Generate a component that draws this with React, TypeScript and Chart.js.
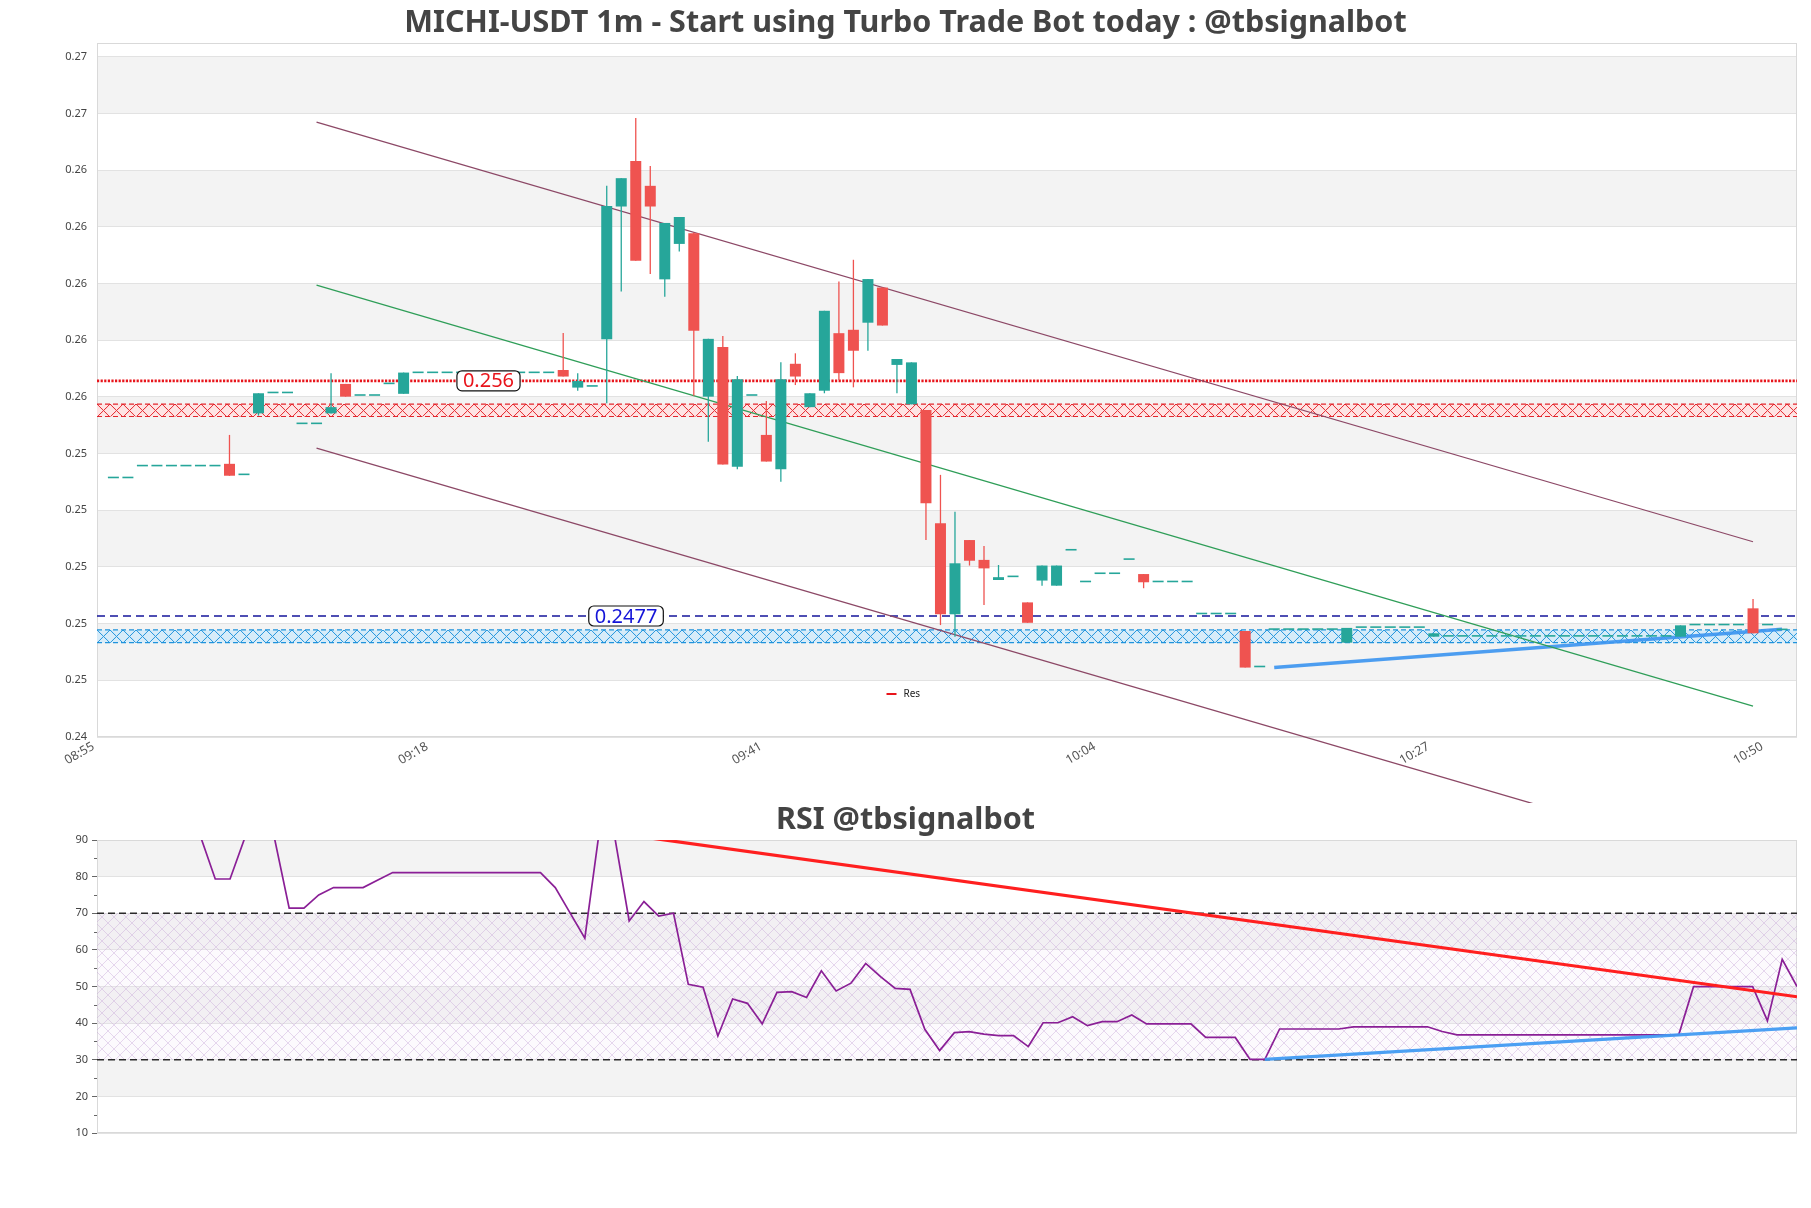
import React, { useEffect, useRef } from 'react';
import { Chart, registerables } from 'chart.js';

Chart.register(...registerables);

// ---------------- DATA ----------------
// candle index = minutes after 08:55
const candleMinutes = [
  1, 2, 3, 4, 5, 6, 7, 8, 9, 10,
  11, 12, 13, 14, 15, 16, 17, 18, 19, 20,
  21, 22, 23, 24, 25, 26, 27, 28, 29, 30,
  31, 32, 33, 34, 35, 36, 37, 38, 39, 40,
  41, 42, 43, 44, 45, 46, 47, 48, 49, 50,
  51, 52, 53, 54, 55, 56, 57, 58, 59, 60,
  61, 62, 63, 64, 65, 66, 67, 68, 69, 70,
  71, 72, 73, 74, 75, 76, 77, 78, 79, 80,
  81, 82, 83, 84, 85, 86, 87, 88, 89, 90,
  91, 92, 93, 94, 95, 96, 97, 98, 99, 100,
  101, 102, 103, 104, 105, 106, 107, 108, 109, 110,
  111, 112, 113, 114, 115, 116,
];

const opens = [
  0.25256, 0.25256, 0.25298, 0.25298, 0.25298, 0.25298, 0.25298, 0.25298, 0.25307, 0.25267,
  0.25485, 0.25556, 0.25556, 0.25447, 0.25447, 0.25485, 0.25589, 0.25547, 0.25547, 0.25588,
  0.25554, 0.25627, 0.25627, 0.25627, 0.25627, 0.25627, 0.25627, 0.25627, 0.25627, 0.25627,
  0.25627, 0.25638, 0.25576, 0.25579, 0.25747, 0.26215, 0.26376, 0.26288, 0.25958, 0.26083,
  0.26121, 0.25544, 0.25719, 0.25297, 0.25547, 0.25409, 0.25288, 0.25660, 0.25507, 0.25565,
  0.25768, 0.25780, 0.25805, 0.25929, 0.25656, 0.25517, 0.25497, 0.25097, 0.24776, 0.25038,
  0.24968, 0.24897, 0.24907, 0.24818, 0.24895, 0.24877, 0.25001, 0.24889, 0.24918, 0.24918,
  0.24968, 0.24918, 0.24889, 0.24889, 0.24889, 0.24776, 0.24776, 0.24776, 0.24717, 0.24589,
  0.24721, 0.24721, 0.24721, 0.24721, 0.24721, 0.24676, 0.24728, 0.24728, 0.24728, 0.24728,
  0.24728, 0.24697, 0.24697, 0.24697, 0.24697, 0.24697, 0.24697, 0.24697, 0.24697, 0.24697,
  0.24697, 0.24697, 0.24697, 0.24697, 0.24697, 0.24697, 0.24697, 0.24697, 0.24697, 0.24737,
  0.24737, 0.24737, 0.24737, 0.24797, 0.24737, 0.24720,
];

const highs = [
  0.25256, 0.25256, 0.25298, 0.25298, 0.25298, 0.25298, 0.25298, 0.25298, 0.25409, 0.25267,
  0.25556, 0.25556, 0.25556, 0.25447, 0.25447, 0.25627, 0.25589, 0.25547, 0.25547, 0.25588,
  0.25629, 0.25627, 0.25627, 0.25627, 0.25627, 0.25627, 0.25627, 0.25627, 0.25627, 0.25627,
  0.25627, 0.25769, 0.25627, 0.25579, 0.26288, 0.26315, 0.26527, 0.26358, 0.26157, 0.26178,
  0.26123, 0.25748, 0.25758, 0.25617, 0.25547, 0.25529, 0.25665, 0.25697, 0.25556, 0.25847,
  0.25950, 0.26027, 0.25959, 0.25929, 0.25677, 0.25665, 0.25497, 0.25268, 0.25138, 0.25038,
  0.25017, 0.24950, 0.24907, 0.24818, 0.24948, 0.24948, 0.25001, 0.24889, 0.24918, 0.24918,
  0.24968, 0.24918, 0.24889, 0.24889, 0.24889, 0.24776, 0.24776, 0.24776, 0.24717, 0.24589,
  0.24721, 0.24721, 0.24721, 0.24721, 0.24721, 0.24728, 0.24728, 0.24728, 0.24728, 0.24728,
  0.24728, 0.24709, 0.24697, 0.24697, 0.24697, 0.24697, 0.24697, 0.24697, 0.24697, 0.24697,
  0.24697, 0.24697, 0.24697, 0.24697, 0.24697, 0.24697, 0.24697, 0.24697, 0.24737, 0.24737,
  0.24737, 0.24737, 0.24737, 0.24830, 0.24737, 0.24720,
];

const lows = [
  0.25256, 0.25256, 0.25298, 0.25298, 0.25298, 0.25298, 0.25298, 0.25298, 0.25265, 0.25267,
  0.25477, 0.25556, 0.25556, 0.25447, 0.25447, 0.25485, 0.25544, 0.25547, 0.25547, 0.25588,
  0.25554, 0.25627, 0.25627, 0.25627, 0.25627, 0.25627, 0.25627, 0.25627, 0.25627, 0.25627,
  0.25627, 0.25615, 0.25565, 0.25579, 0.25521, 0.25915, 0.26024, 0.25977, 0.25897, 0.26056,
  0.25547, 0.25385, 0.25305, 0.25288, 0.25547, 0.25315, 0.25244, 0.25585, 0.25507, 0.25556,
  0.25603, 0.25577, 0.25706, 0.25795, 0.25556, 0.25517, 0.25038, 0.24738, 0.24697, 0.24948,
  0.24809, 0.24897, 0.24907, 0.24746, 0.24877, 0.24877, 0.25001, 0.24889, 0.24918, 0.24918,
  0.24968, 0.24868, 0.24889, 0.24889, 0.24889, 0.24776, 0.24776, 0.24776, 0.24588, 0.24589,
  0.24721, 0.24721, 0.24721, 0.24721, 0.24721, 0.24676, 0.24728, 0.24728, 0.24728, 0.24728,
  0.24728, 0.24697, 0.24697, 0.24697, 0.24697, 0.24697, 0.24697, 0.24697, 0.24697, 0.24697,
  0.24697, 0.24697, 0.24697, 0.24697, 0.24697, 0.24697, 0.24697, 0.24697, 0.24697, 0.24737,
  0.24737, 0.24737, 0.24737, 0.24709, 0.24737, 0.24720,
];

const closes = [
  0.25256, 0.25256, 0.25298, 0.25298, 0.25298, 0.25298, 0.25298, 0.25298, 0.25265, 0.25267,
  0.25556, 0.25556, 0.25556, 0.25447, 0.25447, 0.25507, 0.25544, 0.25547, 0.25547, 0.25588,
  0.25629, 0.25627, 0.25627, 0.25627, 0.25627, 0.25627, 0.25627, 0.25627, 0.25627, 0.25627,
  0.25627, 0.25615, 0.25599, 0.25579, 0.26217, 0.26315, 0.26024, 0.26215, 0.26157, 0.26178,
  0.25777, 0.25748, 0.25305, 0.25605, 0.25547, 0.25315, 0.25605, 0.25615, 0.25556, 0.25847,
  0.25627, 0.25706, 0.25959, 0.25795, 0.25677, 0.25665, 0.25168, 0.24776, 0.24956, 0.24965,
  0.24938, 0.24907, 0.24907, 0.24746, 0.24948, 0.24948, 0.25001, 0.24889, 0.24918, 0.24918,
  0.24968, 0.24889, 0.24889, 0.24889, 0.24889, 0.24776, 0.24776, 0.24776, 0.24588, 0.24589,
  0.24721, 0.24721, 0.24721, 0.24721, 0.24721, 0.24728, 0.24728, 0.24728, 0.24728, 0.24728,
  0.24728, 0.24709, 0.24697, 0.24697, 0.24697, 0.24697, 0.24697, 0.24697, 0.24697, 0.24697,
  0.24697, 0.24697, 0.24697, 0.24697, 0.24697, 0.24697, 0.24697, 0.24697, 0.24737, 0.24737,
  0.24737, 0.24737, 0.24737, 0.24709, 0.24737, 0.24720,
];

const rsiValues = [
  91.0, 91.0, 91.0, 91.0, 91.0, 91.0, 91.0, 91.0, 79.35, 79.35,
  90.6, 90.6, 90.6, 71.4, 71.4, 75.0, 77.0, 77.0, 77.0, 79.1,
  81.1, 81.1, 81.1, 81.1, 81.1, 81.1, 81.1, 81.1, 81.1, 81.1,
  81.1, 77.0, 70.1, 63.2, 93.0, 91.4, 67.9, 73.2, 69.25, 70.0,
  50.6, 49.8, 36.5, 46.6, 45.4, 39.8, 48.4, 48.6, 47.0, 54.3,
  48.8, 50.9, 56.3, 52.7, 49.5, 49.2, 38.3, 32.5, 37.4, 37.7,
  37.0, 36.6, 36.6, 33.6, 40.1, 40.1, 41.75, 39.3, 40.4, 40.4,
  42.2, 39.8, 39.8, 39.8, 39.8, 36.1, 36.1, 36.1, 30.1, 30.1,
  38.4, 38.4, 38.4, 38.4, 38.4, 39.0, 39.0, 39.0, 39.0, 39.0,
  39.0, 37.7, 36.8, 36.8, 36.8, 36.8, 36.8, 36.8, 36.8, 36.8,
  36.8, 36.8, 36.8, 36.8, 36.8, 36.8, 36.8, 36.8, 49.95, 49.95,
  49.95, 49.95, 49.95, 40.6, 57.4, 50.0,
];

const timeTickMinutes = [0, 23, 46, 69, 92, 115];
const timeTickLabels = ['08:55', '09:18', '09:41', '10:04', '10:27', '10:50'];

const priceTickValues = [0.24343, 0.24543, 0.24743, 0.24943, 0.25143, 0.25343, 0.25543, 0.25743, 0.25943, 0.26143, 0.26343, 0.26543, 0.26743];
const priceTickLabels = ['0.24', '0.25', '0.25', '0.25', '0.25', '0.25', '0.26', '0.26', '0.26', '0.26', '0.26', '0.27', '0.27'];

// channel trend lines (start / end minute, start / end price)
const channelMinutes = [15, 114];
const channelUpper = [0.26513, 0.25032];
const channelMiddle = [0.25938, 0.24452];
const channelLower = [0.25362, 0.23881];
const supportTrendMinutes = [81, 116];
const supportTrend = [0.24588, 0.24723];

const resistanceLevel = 0.256;
const supportLevel = 0.2477;
const resistanceZone = [0.25474, 0.25518];
const supportZone = [0.24676, 0.24721];

const rsiLevels = [70, 30];
const rsiResTrendMinutes = [36, 116];
const rsiResTrend = [91.9, 47.2];
const rsiSupTrendMinutes = [80, 116];
const rsiSupTrend = [30.1, 38.7];

const TITLE = 'MICHI-USDT 1m - Start using Turbo Trade Bot today : @tbsignalbot';
const RSI_TITLE = 'RSI @tbsignalbot';

// ---------------- STYLE / LAYOUT ----------------
const X_MIN = -0.13;
const X_MAX = 117.03;
const Y_MIN = 0.24343;
const Y_MAX = 0.26792;
const RSI_X_MIN = 1;
const RSI_X_MAX = 116;
const UP = '#26a69a';
const DOWN = '#ef5350';
const FONT = '"Noto Sans", "Open Sans", sans-serif';

function makeTile(w: number, h: number, stroke: string, fill: string | null, lw: number) {
  const c = document.createElement('canvas');
  c.width = w;
  c.height = h;
  const g = c.getContext('2d')!;
  if (fill) {
    g.fillStyle = fill;
    g.fillRect(0, 0, w, h);
  }
  g.strokeStyle = stroke;
  g.lineWidth = lw;
  g.beginPath();
  g.moveTo(0, 0);
  g.lineTo(w, h);
  g.moveTo(w, 0);
  g.lineTo(0, h);
  g.stroke();
  return c;
}

const altBandsPlugin = {
  id: 'altBands',
  beforeDraw(chart: any) {
    const { ctx, chartArea: a, scales } = chart;
    const y = scales.y;
    const vals = y.ticks.map((t: any) => t.value);
    ctx.save();
    ctx.fillStyle = '#f3f3f3';
    for (let k = 0; k < vals.length; k++) {
      if (k % 2 === 1) {
        const y1 = y.getPixelForValue(vals[k]);
        const y2 = k + 1 < vals.length ? y.getPixelForValue(vals[k + 1]) : a.top;
        ctx.fillRect(a.left, Math.min(y1, y2), a.right - a.left, Math.abs(y2 - y1));
      }
    }
    ctx.restore();
  },
};

const framePlugin = {
  id: 'frame',
  beforeDatasetsDraw(chart: any) {
    const { ctx, chartArea: a } = chart;
    ctx.save();
    ctx.strokeStyle = '#d9d9d9';
    ctx.lineWidth = 1;
    ctx.strokeRect(Math.round(a.left) + 0.5, Math.round(a.top) + 0.5, Math.round(a.right - a.left) - 1, Math.round(a.bottom - a.top) - 1);
    ctx.restore();
  },
};

function drawValueLabel(ctx: CanvasRenderingContext2D, text: string, cx: number, cy: number, color: string) {
  ctx.save();
  ctx.font = '20px "Noto Sans", sans-serif';
  const tw = ctx.measureText(text).width;
  const w = tw + 12;
  const h = 20;
  ctx.beginPath();
  (ctx as any).roundRect(cx - w / 2, cy - h / 2, w, h, 5);
  ctx.fillStyle = '#ffffff';
  ctx.fill();
  ctx.lineWidth = 1.2;
  ctx.strokeStyle = '#111';
  ctx.stroke();
  ctx.fillStyle = color;
  ctx.textAlign = 'center';
  ctx.textBaseline = 'middle';
  ctx.fillText(text, cx, cy + 1);
  ctx.restore();
}

export default function App() {
  const mainRef = useRef<HTMLCanvasElement>(null);
  const rsiRef = useRef<HTMLCanvasElement>(null);

  useEffect(() => {
    const mainCanvas = mainRef.current!;
    const rsiCanvas = rsiRef.current!;
    const mctx = mainCanvas.getContext('2d')!;
    const rctx = rsiCanvas.getContext('2d')!;

    const resPattern = mctx.createPattern(makeTile(13, 13, '#e3262d', 'rgba(255,226,226,0.9)', 1), 'repeat')!;
    const supPattern = mctx.createPattern(makeTile(13, 13, '#1f93dc', 'rgba(212,235,250,0.9)', 1), 'repeat')!;
    const rsiPattern = rctx.createPattern(makeTile(12, 12, 'rgba(196,160,212,0.5)', 'rgba(240,225,245,0.18)', 0.8), 'repeat')!;

    const candleColors = closes.map((c, i) => (c >= opens[i] ? UP : DOWN));
    const bodies = candleMinutes.map((m, i) => ({ x: m, y: [Math.min(opens[i], closes[i]), Math.max(opens[i], closes[i])] }));
    const wicks = candleMinutes.map((m, i) => ({ x: m, y: [lows[i], highs[i]] }));
    const seg = (xs: number[], ys: number[]) => xs.map((x, i) => ({ x, y: ys[i] }));
    const level = (v: number, a: number, b: number) => [{ x: a, y: v }, { x: b, y: v }];

    const patternAlignPlugin = {
      id: 'patternAlign',
      beforeDatasetsDraw(chart: any) {
        const y = chart.scales.y;
        const left = chart.chartArea.left;
        const t1 = y.getPixelForValue(resistanceZone[1]);
        const t2 = y.getPixelForValue(supportZone[1]);
        (resPattern as any).setTransform(new DOMMatrix().translate(left, t1));
        (supPattern as any).setTransform(new DOMMatrix().translate(left, t2));
      },
    };

    const mainAnnotations = {
      id: 'mainAnnotations',
      afterDatasetsDraw(chart: any) {
        const { ctx, scales, chartArea: a } = chart;
        drawValueLabel(ctx, String(resistanceLevel), scales.x.getPixelForValue(26.85), scales.y.getPixelForValue(resistanceLevel), '#e8141b');
        drawValueLabel(ctx, String(supportLevel), scales.x.getPixelForValue(36.33), scales.y.getPixelForValue(supportLevel), '#1414d8');
        // legend
        ctx.save();
        const ly = a.bottom - 43;
        const cx = chart.width / 2;
        ctx.strokeStyle = '#e8141b';
        ctx.lineWidth = 2;
        ctx.beginPath();
        ctx.moveTo(cx - 19, ly);
        ctx.lineTo(cx - 9, ly);
        ctx.stroke();
        ctx.fillStyle = '#222';
        ctx.font = '10px ' + FONT;
        ctx.textAlign = 'left';
        ctx.textBaseline = 'middle';
        ctx.fillText('Res', cx - 2, ly);
        ctx.restore();
      },
    };

    const mainChart = new Chart(mainCanvas, {
      type: 'bar',
      data: {
        datasets: [
          { type: 'bar', label: 'body', data: bodies as any, backgroundColor: candleColors, barThickness: 11, minBarLength: 1.6, grouped: false, borderWidth: 0, inflateAmount: 0, order: 0 } as any,
          { type: 'bar', label: 'wick', data: wicks as any, backgroundColor: candleColors, barThickness: 1.3, grouped: false, borderWidth: 0, inflateAmount: 0, order: 1 } as any,
          { type: 'line', label: 'upper', data: seg(channelMinutes, channelUpper), borderColor: '#8c4866', borderWidth: 1.3, pointRadius: 0, clip: false, order: 2 } as any,
          { type: 'line', label: 'middle', data: seg(channelMinutes, channelMiddle), borderColor: '#2f9e58', borderWidth: 1.3, pointRadius: 0, clip: false, order: 2 } as any,
          { type: 'line', label: 'lower', data: seg(channelMinutes, channelLower), borderColor: '#8c4866', borderWidth: 1.3, pointRadius: 0, clip: false, order: 2 } as any,
          { type: 'line', label: 'support trend', data: seg(supportTrendMinutes, supportTrend), borderColor: 'rgba(62,150,240,0.92)', borderWidth: 3.5, pointRadius: 0, order: 2 } as any,
          { type: 'line', label: 'Res', data: level(resistanceLevel, X_MIN, X_MAX), borderColor: '#e8141b', borderWidth: 2.8, borderDash: [2.2, 1.4], pointRadius: 0, order: 3 } as any,
          { type: 'line', label: 'Sup', data: level(supportLevel, X_MIN, X_MAX), borderColor: '#14149a', borderWidth: 1.5, borderDash: [8, 5], pointRadius: 0, order: 3 } as any,
          { type: 'line', label: 'res zone top', data: level(resistanceZone[1], X_MIN, X_MAX), borderColor: '#e3262d', borderWidth: 1.2, borderDash: [5, 3], pointRadius: 0, fill: false, order: 4 } as any,
          { type: 'line', label: 'res zone bottom', data: level(resistanceZone[0], X_MIN, X_MAX), borderColor: '#e3262d', borderWidth: 1.2, borderDash: [5, 3], pointRadius: 0, fill: '-1', backgroundColor: resPattern, order: 4 } as any,
          { type: 'line', label: 'sup zone top', data: level(supportZone[1], X_MIN, X_MAX), borderColor: '#1f93dc', borderWidth: 1.2, borderDash: [5, 3], pointRadius: 0, fill: false, order: 4 } as any,
          { type: 'line', label: 'sup zone bottom', data: level(supportZone[0], X_MIN, X_MAX), borderColor: '#1f93dc', borderWidth: 1.2, borderDash: [5, 3], pointRadius: 0, fill: '-1', backgroundColor: supPattern, order: 4 } as any,
        ],
      },
      options: {
        animation: false,
        responsive: false,
        maintainAspectRatio: false,
        devicePixelRatio: 1,
        layout: { padding: { left: 14, right: 14, top: 0, bottom: 0 } },
        plugins: {
          legend: { display: false },
          tooltip: { enabled: false },
          title: {
            display: true,
            text: TITLE,
            color: '#444',
            font: { family: FONT, size: 30.5, weight: 'bold', lineHeight: 1.0 },
            padding: { top: 8.5, bottom: 4 },
          },
        },
        scales: {
          x: {
            type: 'linear',
            min: X_MIN,
            max: X_MAX,
            offset: false,
            grid: { display: false, drawTicks: false, offset: false },
            border: { display: false },
            afterBuildTicks: (s: any) => {
              s.ticks = timeTickMinutes.map((v) => ({ value: v }));
            },
            afterFit: (s: any) => {
              s.height = 66;
            },
            ticks: {
              autoSkip: false,
              minRotation: 30,
              maxRotation: 30,
              padding: 2,
              labelOffset: -5.5,
              color: '#555',
              font: { family: FONT, size: 12.5 },
              callback: (v: any) => {
                const i = timeTickMinutes.indexOf(Number(v));
                return i >= 0 ? timeTickLabels[i] : '';
              },
            },
          },
          y: {
            type: 'linear',
            min: Y_MIN,
            max: Y_MAX,
            grid: { color: '#e2e2e2', drawTicks: false },
            border: { display: false },
            afterBuildTicks: (s: any) => {
              s.ticks = priceTickValues.map((v) => ({ value: v }));
            },
            afterFit: (s: any) => {
              s.width = 83;
            },
            ticks: {
              padding: 10,
              color: '#444',
              font: { family: FONT, size: 11 },
              callback: (_v: any, i: number) => priceTickLabels[i],
            },
          },
        },
      } as any,
      plugins: [altBandsPlugin, framePlugin, patternAlignPlugin, mainAnnotations],
    });

    const rsiMinorTicks = {
      id: 'rsiMinorTicks',
      afterDraw(chart: any) {
        const { ctx, scales, chartArea: a } = chart;
        ctx.save();
        ctx.strokeStyle = '#666';
        ctx.lineWidth = 1;
        for (let v = 15; v <= 85; v += 10) {
          const py = Math.round(scales.y.getPixelForValue(v)) + 0.5;
          ctx.beginPath();
          ctx.moveTo(a.left - 3, py);
          ctx.lineTo(a.left, py);
          ctx.stroke();
        }
        ctx.restore();
      },
    };

    const rsiChart = new Chart(rsiCanvas, {
      type: 'line',
      data: {
        datasets: [
          { label: 'rsi res', data: seg(rsiResTrendMinutes, rsiResTrend), borderColor: '#ff1f1f', borderWidth: 3.2, pointRadius: 0, clip: 0, order: 0 } as any,
          { label: 'rsi sup', data: seg(rsiSupTrendMinutes, rsiSupTrend), borderColor: 'rgba(66,155,242,0.95)', borderWidth: 3.2, pointRadius: 0, clip: 0, order: 0 } as any,
          { label: 'RSI', data: seg(candleMinutes, rsiValues), borderColor: '#8a1f96', borderWidth: 1.7, pointRadius: 0, clip: 0, order: 1 } as any,
          { label: 'overbought', data: level(rsiLevels[0], RSI_X_MIN, RSI_X_MAX), borderColor: '#2a2a2a', borderWidth: 1.3, borderDash: [7, 4], pointRadius: 0, fill: false, order: 3 } as any,
          { label: 'oversold', data: level(rsiLevels[1], RSI_X_MIN, RSI_X_MAX), borderColor: '#2a2a2a', borderWidth: 1.3, borderDash: [7, 4], pointRadius: 0, fill: '-1', backgroundColor: rsiPattern, order: 3 } as any,
        ],
      },
      options: {
        animation: false,
        responsive: false,
        maintainAspectRatio: false,
        devicePixelRatio: 1,
        layout: { padding: { left: 14, right: 14, top: 0, bottom: 75 } },
        plugins: {
          legend: { display: false },
          tooltip: { enabled: false },
          title: {
            display: true,
            text: RSI_TITLE,
            color: '#444',
            font: { family: FONT, size: 30.5, weight: 'bold', lineHeight: 1.0 },
            padding: { top: 2, bottom: 4.5 },
          },
        },
        scales: {
          x: { type: 'linear', min: RSI_X_MIN, max: RSI_X_MAX, display: false },
          y: {
            type: 'linear',
            min: 10,
            max: 90,
            grid: { color: '#e2e2e2', drawTicks: true, tickLength: 5, tickColor: '#666' },
            border: { display: false },
            afterFit: (s: any) => {
              s.width = 83;
            },
            ticks: {
              stepSize: 10,
              padding: 4,
              color: '#444',
              font: { family: FONT, size: 11 },
            },
          },
        },
      } as any,
      plugins: [altBandsPlugin, framePlugin, rsiMinorTicks],
    });

    return () => {
      mainChart.destroy();
      rsiChart.destroy();
    };
  }, []);

  return (
    <div style={{ position: 'absolute', left: 0, top: 0, width: 1811, height: 1208, background: '#ffffff' }}>
      <canvas ref={mainRef} width={1811} height={803} style={{ position: 'absolute', left: 0, top: 0, width: 1811, height: 803, display: 'block' }} />
      <canvas ref={rsiRef} width={1811} height={405} style={{ position: 'absolute', left: 0, top: 803, width: 1811, height: 405, display: 'block' }} />
    </div>
  );
}
